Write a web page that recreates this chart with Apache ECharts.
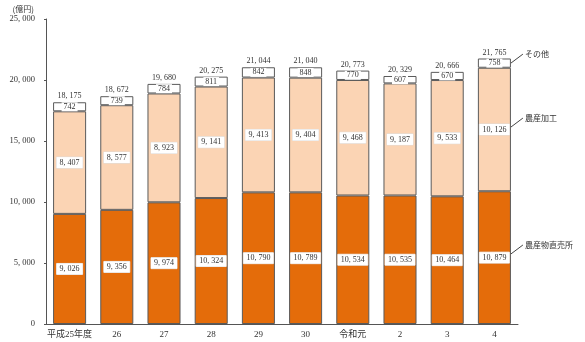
<!DOCTYPE html>
<html><head><meta charset="utf-8">
<script src="https://cdn.jsdelivr.net/npm/echarts@6/dist/echarts.min.js"></script>
<style>html,body{margin:0;padding:0;background:#fff}#c{width:585px;height:342px}</style>
</head><body><div id="c"></div>
<script>
const categories = ['平成25年度','26','27','28','29','30','令和元','2','3','4'];
const chokubai = [9026, 9356, 9974, 10324, 10790, 10789, 10534, 10535, 10464, 10879];
const kakou = [8407, 8577, 8923, 9141, 9413, 9404, 9468, 9187, 9533, 10126];
const sonota = [742, 739, 784, 811, 842, 848, 770, 607, 670, 758];
const totals = [18175, 18672, 19680, 20275, 21044, 21040, 20773, 20329, 20666, 21765];
const seriesNames = ['農産物直売所','農産加工','その他'];

const NUM = '"Liberation Serif","DejaVu Serif","Noto Sans CJK JP",serif';
const JP = '"Noto Sans CJK JP",sans-serif';
function fmt(v){ return String(v).replace(/\B(?=(\d{3})+(?!\d))/g, ', '); }

const boxLabel = {
  show: true, position: 'inside', formatter: p => fmt(p.value),
  backgroundColor: '#fff', color: '#333', fontFamily: NUM, fontSize: 8,
  padding: [2, 3, 1, 3], borderColor: '#ddd', borderWidth: 0.5
};
const border = { borderColor: '#5a5a5a', borderWidth: 1 };

const chart = echarts.init(document.getElementById('c'), null, {renderer: 'canvas'});
const option = {
  animation: false,
  grid: { left: 46, right: 67, top: 19, bottom: 18, containLabel: false },
  xAxis: {
    type: 'category', data: categories,
    axisLine: { lineStyle: { color: '#555', width: 1 } },
    axisTick: { show: false },
    axisLabel: { color: '#333', fontSize: 9, fontFamily: NUM, margin: 6, interval: 0 }
  },
  yAxis: {
    type: 'value', min: 0, max: 25000, interval: 5000,
    name: '(億円)', nameLocation: 'end', nameGap: 6,
    nameTextStyle: { color: '#333', fontSize: 8, fontFamily: JP, align: 'right', padding: [0, 12, 0, 0] },
    axisLine: { show: true, lineStyle: { color: '#555', width: 1 } },
    axisTick: { show: true, length: 2, inside: false, lineStyle: { color: '#555' } },
    splitLine: { show: false },
    axisLabel: { color: '#333', fontSize: 8.5, fontFamily: NUM, margin: 11, formatter: v => fmt(v) }
  },
  series: [
    { name: seriesNames[0], type: 'bar', stack: 's', data: chokubai, barWidth: '70%',
      itemStyle: Object.assign({ color: '#E46C0A' }, border), label: boxLabel },
    { name: seriesNames[1], type: 'bar', stack: 's', data: kakou, barWidth: '70%',
      itemStyle: Object.assign({ color: '#FBD4B4' }, border), label: boxLabel },
    { name: seriesNames[2], type: 'bar', stack: 's', data: sonota, barWidth: '70%',
      itemStyle: Object.assign({ color: '#FFFFFF' }, border), label: Object.assign({}, boxLabel, {borderWidth:0, padding:[1,2,0,2]}) },
    { name: 'total', type: 'bar', stack: 's', data: totals.map(() => 0), barWidth: '70%',
      itemStyle: { color: 'transparent' },
      label: { show: true, position: 'top', distance: 2, formatter: p => fmt(totals[p.dataIndex]),
        color: '#333', fontFamily: NUM, fontSize: 8 } }
  ]
};
chart.setOption(option);

// leader-line annotations for the last bar
const last = categories.length - 1;
const segs = [
  { name: seriesNames[2], mid: chokubai[last] + kakou[last] + sonota[last] / 2 },
  { name: seriesNames[1], mid: chokubai[last] + kakou[last] / 2 + 200 },
  { name: seriesNames[0], mid: chokubai[last] / 2 + 300 }
];
const cx = chart.convertToPixel({ xAxisIndex: 0 }, categories[last]);
const bw = chart.convertToPixel({ xAxisIndex: 0 }, categories[1]) - chart.convertToPixel({ xAxisIndex: 0 }, categories[0]);
const x0 = cx + bw * 0.35;
const graphics = [];
segs.forEach(s => {
  const y = chart.convertToPixel({ yAxisIndex: 0 }, s.mid);
  graphics.push({ type: 'line', shape: { x1: x0, y1: y, x2: x0 + 12, y2: y - 9 }, style: { stroke: '#444', lineWidth: 1 } });
  graphics.push({ type: 'text', x: x0 + 14, y: y - 9, style: { text: s.name, fill: '#333', font: '8px ' + JP, verticalAlign: 'middle' } });
});
chart.setOption({ graphic: graphics });
</script></body></html>
